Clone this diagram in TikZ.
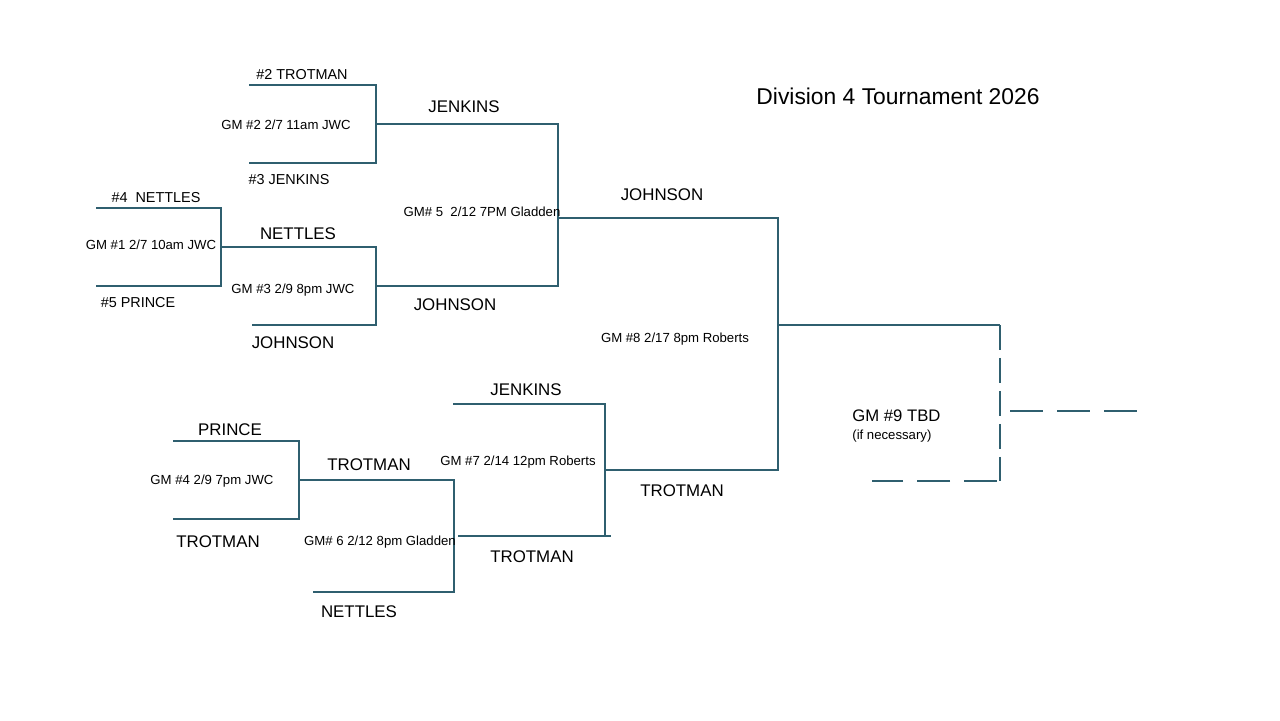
\documentclass[tikz,border=0pt]{standalone}
\usepackage{fontspec}
\setmainfont{Liberation Sans}
\definecolor{bline}{HTML}{2F5F6F}
\begin{document}
\begin{tikzpicture}[x=0.02cm,y=-0.02cm,
  br/.style={draw=bline,line width=1.2pt},
  dsv/.style={draw=bline,line width=1.2pt,dash pattern=on 5mm off 1.6mm},
  dsh/.style={draw=bline,line width=1.2pt,dash pattern=on 6.6mm off 2.8mm},
  team/.style={inner sep=0pt,font=\fontsize{9.6pt}{11pt}\selectfont},
  seed/.style={inner sep=0pt,font=\fontsize{8.2pt}{10pt}\selectfont},
  game/.style={inner sep=0pt,font=\fontsize{7.5pt}{9pt}\selectfont},
  every node/.style={text=black}]
\useasboundingbox[fill=white] (0,0) rectangle (1280,720);

% coordinates
\coordinate (a1) at (249,85);  \coordinate (a2) at (376,85);
\coordinate (a3) at (249,163); \coordinate (a4) at (376,163);
\coordinate (a5) at (376,124); \coordinate (a6) at (558,124);
\coordinate (b1) at (96,208);  \coordinate (b2) at (221,208);
\coordinate (b3) at (96,286);  \coordinate (b4) at (221,286);
\coordinate (b5) at (221,247); \coordinate (b6) at (376,247);
\coordinate (c3) at (252,325); \coordinate (c4) at (376,325);
\coordinate (c5) at (376,286); \coordinate (c6) at (558,286);
\coordinate (d5) at (558,218); \coordinate (d6) at (778,218);
\coordinate (e4) at (778,470); \coordinate (e5) at (778,325); \coordinate (e6) at (1000,325);
\coordinate (f1) at (173,441); \coordinate (f2) at (299,441);
\coordinate (f3) at (173,519); \coordinate (f4) at (299,519);
\coordinate (f5) at (299,480); \coordinate (f6) at (454,480);
\coordinate (g3) at (313,592); \coordinate (g4) at (454,592);
\coordinate (g5) at (458,536); \coordinate (g6) at (611,536);
\coordinate (h1) at (453,404); \coordinate (h2) at (605,404);
\coordinate (h4) at (605,536); \coordinate (h5) at (605,470);
\coordinate (k1) at (1000,481); \coordinate (k2) at (997,481); \coordinate (k3) at (872,481);
\coordinate (m1) at (1010,411); \coordinate (m2) at (1137,411);

% brackets
\draw[br] (a1) -- (a2) -- (a4) -- (a3);
\draw[br] (a5) -- (a6) -- (c6) -- (c5);
\draw[br] (b1) -- (b2) -- (b4) -- (b3);
\draw[br] (b5) -- (b6) -- (c4) -- (c3);
\draw[br] (d5) -- (d6) -- (e4) -- (h5);
\draw[br] (e5) -- (e6);
\draw[br] (f1) -- (f2) -- (f4) -- (f3);
\draw[br] (f5) -- (f6) -- (g4) -- (g3);
\draw[br] (h1) -- (h2) -- (h4);
\draw[br] (g5) -- (g6);
\draw[dsv] (e6) -- (k1);
\draw[dsh] (k2) -- (k3);
\draw[dsh] (m1) -- (m2);

% title
\node[inner sep=0pt,font=\fontsize{13pt}{15pt}\selectfont] (title) at (898,96) {Division 4 Tournament 2026};

% seeded labels
\node[seed] (t1) at (302,75) {\#2 TROTMAN};
\node[seed] (t2) at (289,180) {\#3 JENKINS};
\node[seed] (t4) at (156,198) {\#4\ \ NETTLES};
\node[seed] (t5) at (138,303) {\#5 PRINCE};

% team labels
\node[team] (t3) at (464,107) {JENKINS};
\node[team] (t6) at (298,234) {NETTLES};
\node[team] (t7) at (293,343) {JOHNSON};
\node[team] (t8) at (455,305) {JOHNSON};
\node[team] (t9) at (662,195) {JOHNSON};
\node[team] (t10) at (526,390) {JENKINS};
\node[team] (t11) at (230,430) {PRINCE};
\node[team] (t12) at (369,465) {TROTMAN};
\node[team] (t13) at (218,542) {TROTMAN};
\node[team] (t14) at (532,557) {TROTMAN};
\node[team] (t15) at (359,612) {NETTLES};
\node[team] (t16) at (682,491) {TROTMAN};

% game labels
\node[game] (g2) at (286,125) {GM \#2 2/7 11am JWC};
\node[game] (g1) at (151,245) {GM \#1 2/7 10am JWC};
\node[game] (g3) at (293,290) {GM \#3 2/9 8pm JWC};
\node[game] (g5l) at (482,212) {GM\# 5\ \ 2/12 7PM Gladden};
\node[game] (g8) at (675,339) {GM \#8 2/17 8pm Roberts};
\node[game] (g4l) at (212,481) {GM \#4 2/9 7pm JWC};
\node[game] (g7) at (518,462) {GM \#7 2/14 12pm Roberts};
\node[game] (g6l) at (380,542) {GM\# 6 2/12 8pm Gladden};
\node[inner sep=0pt,anchor=west,font=\fontsize{9.5pt}{11pt}\selectfont] (g9) at (852,416) {GM \#9 TBD};
\node[inner sep=0pt,anchor=west,font=\fontsize{7.5pt}{9pt}\selectfont] (g9b) at (852,436) {(if necessary)};
\end{tikzpicture}
\end{document}
